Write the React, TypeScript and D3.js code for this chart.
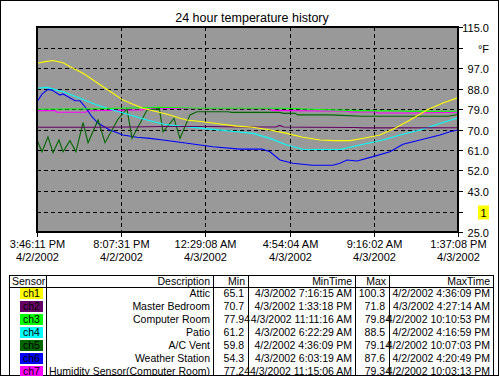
import React from "react";
import * as d3 from "d3";

const title = "24 hour temperature history";
const startTime = new Date(2002, 3, 2, 15, 46, 11);
const endTime = new Date(2002, 3, 3, 13, 37, 8);

const xTickTimes = [
  new Date(2002, 3, 2, 15, 46, 11),
  new Date(2002, 3, 2, 20, 7, 31),
  new Date(2002, 3, 3, 0, 29, 8),
  new Date(2002, 3, 3, 4, 54, 4),
  new Date(2002, 3, 3, 9, 16, 2),
  new Date(2002, 3, 3, 13, 37, 8),
];
const xTickTimeLabels = ["3:46:11 PM", "8:07:31 PM", "12:29:08 AM", "4:54:04 AM", "9:16:02 AM", "1:37:08 PM"];
const xTickDateLabels = ["4/2/2002", "4/2/2002", "4/3/2002", "4/3/2002", "4/3/2002", "4/3/2002"];

const yTicks = [25, 34, 43, 52, 61, 70, 79, 88, 97, 106, 115];
const yTickLabels = ["25.0", "1", "43.0", "52.0", "61.0", "70.0", "79.0", "88.0", "97.0", "°F", "115.0"];

// [hours since start, °F]
const ch1: [number, number][] = [[0,99.1],[0.43,99.8],[0.83,100.3],[1.35,99.3],[1.87,96.9],[2.39,94.7],[2.91,91.7],[3.43,88.8],[3.94,85.9],[4.46,82.9],[4.98,81.1],[5.5,79.3],[6.23,77.8],[6.9,76.4],[7.42,74.9],[7.78,74.2],[8.61,73.4],[9.5,72.4],[10.38,71.5],[11.21,71.0],[12.09,69.8],[12.97,68.3],[13.8,66.6],[14.69,65.4],[15.46,65.1],[16.24,65.1],[17.02,66.3],[17.8,67.6],[18.58,70.6],[19.36,74.2],[20.24,78.6],[21.07,81.6],[21.85,84.0]];
const ch2: [number, number][] = [[0,71.0],[3.0,71.0],[5.0,71.1],[6.5,71.3],[9.0,71.3],[10.5,71.1],[12.4,71.1],[12.6,71.8],[12.8,71.1],[14.0,71.0],[16.5,70.9],[17.0,70.7],[21.85,70.8]];
const ch3: [number, number][] = [[0,78.9],[3.27,79.1],[6.41,79.8],[8.46,79.3],[13.0,79.3],[14.17,78.9],[16.76,78.3],[18.84,78.1],[19.42,77.94],[21.85,78.0]];
const ch4: [number, number][] = [[0,88.1],[0.51,88.5],[1.35,86.6],[2.23,83.7],[3.11,80.8],[3.94,78.6],[4.83,76.4],[5.71,74.2],[6.54,72.4],[6.9,72.0],[8.61,70.5],[10.38,69.0],[11.21,68.3],[12.09,66.1],[12.97,63.2],[13.8,61.3],[14.6,61.2],[15.72,61.2],[16.76,63.2],[17.96,65.4],[18.84,67.6],[19.88,69.8],[20.91,72.6],[21.85,75.2]];
const ch5: [number, number][] = [[0,65.4],[0.26,60.2],[0.57,66.8],[0.83,59.8],[1.14,65.4],[1.35,60.2],[1.71,65.1],[2.02,60.2],[2.39,73.0],[2.65,64.2],[3.17,74.2],[3.53,64.2],[4.2,74.5],[4.67,79.0],[4.93,66.1],[5.71,78.6],[6.35,79.14],[6.54,69.0],[7.11,74.9],[7.42,66.1],[7.94,76.4],[8.3,77.8],[9.91,77.8],[10.12,77.5],[12.61,77.5],[12.77,77.1],[13.39,77.1],[13.54,76.4],[15.2,76.4],[16.87,75.8],[21.33,75.8],[21.85,76.6]];
const ch6: [number, number][] = [[0,82.2],[0.26,85.5],[0.57,87.6],[0.78,87.3],[1.19,85.1],[1.35,85.6],[1.61,84.4],[1.97,82.6],[2.23,82.6],[2.49,80.0],[2.85,75.6],[3.17,72.7],[3.79,69.8],[4.46,67.6],[5.19,66.6],[5.86,66.1],[6.54,65.4],[7.42,64.4],[9.13,62.4],[10.53,61.4],[11.68,61.4],[12.09,60.2],[12.61,56.6],[13.28,55.2],[14.28,54.3],[15.36,54.3],[15.72,55.2],[16.09,56.6],[16.61,56.2],[17.44,58.1],[18.32,60.2],[18.99,63.5],[19.88,65.4],[20.91,67.6],[21.43,69.0],[21.85,69.8]];
const ch7: [number, number][] = [[0,78.3],[0.93,78.3],[1.04,77.6],[2.49,77.6],[2.75,78.2],[5.35,78.6],[6.29,79.34],[8.46,79.1],[12.09,79.1],[12.2,78.4],[14.69,78.1],[16.09,78.1],[16.24,77.7],[17.54,77.7],[17.7,77.3],[19.48,77.24],[21.85,77.6]];

const sensorIds = ["ch1", "ch2", "ch3", "ch4", "ch5", "ch6", "ch7"];
const sensorColors = ["#ffff00", "#660066", "#00ff00", "#00ffff", "#006600", "#0000ff", "#ff00ff"];
const sensorSeries = [ch1, ch2, ch3, ch4, ch5, ch6, ch7];
const descriptions = ["Attic", "Master Bedroom", "Computer Room", "Patio", "A/C Vent", "Weather Station", "Humidity Sensor(Computer Room)"];
const minValues = ["65.1", "70.7", "77.94", "61.2", "59.8", "54.3", "77.24"];
const minTimes = ["4/3/2002 7:16:15 AM", "4/3/2002 1:33:18 PM", "4/3/2002 11:11:16 AM", "4/3/2002 6:22:29 AM", "4/2/2002 4:36:09 PM", "4/3/2002 6:03:19 AM", "4/3/2002 11:15:06 AM"];
const maxValues = ["100.3", "71.8", "79.84", "88.5", "79.14", "87.6", "79.34"];
const maxTimes = ["4/2/2002 4:36:09 PM", "4/3/2002 4:27:14 AM", "4/2/2002 10:10:53 PM", "4/2/2002 4:16:59 PM", "4/2/2002 10:07:03 PM", "4/2/2002 4:20:49 PM", "4/2/2002 10:03:13 PM"];
const headers = ["Sensor", "Description", "Min", "MinTime", "Max", "MaxTime"];

const FONT = "Arial, 'Liberation Sans', sans-serif";

export default function App() {
  const left = 37, right = 458, top = 27, bottom = 232;
  const x = d3.scaleTime().domain([startTime, endTime]).range([left, right]);
  const y = d3.scaleLinear().domain([25, 115]).range([bottom, top]);
  const toDate = (h: number) => new Date(startTime.getTime() + h * 3600 * 1000);
  const line = d3
    .line<[number, number]>()
    .x((d) => x(toDate(d[0])))
    .y((d) => y(d[1]));

  const colX = [9, 46, 213, 248, 355, 389, 493];
  const tableTop = 275;
  const headerBottom = 287;
  const rowH = 13;
  const tableBottom = 375;

  const valueText = (v: string, rightEdge: number, baseline: number, key: string) => {
    const parts = v.split(".");
    const extra = parts[1] && parts[1].length > 1 ? 6 : 0;
    return (
      <text key={key} x={rightEdge - 4 + extra} y={baseline} textAnchor="end">
        {v}
      </text>
    );
  };

  return (
    <div style={{ position: "absolute", left: 0, top: 0 }}>
      <svg width={500} height={376} style={{ display: "block", fontFamily: FONT }}>
        <rect x={0} y={0} width={500} height={376} fill="#ffffff" />
        <rect x={0.5} y={0.5} width={498} height={375} fill="none" stroke="#000" />
        <text x={252} y={22} textAnchor="middle" fontSize={12.5} fill="#000">
          {title}
        </text>
        <rect x={left} y={top} width={right - left} height={bottom - top} fill="#999999" />
        <g stroke="#000" strokeDasharray="4,3" strokeWidth={1}>
          {yTicks.slice(1, -1).map((t) => (
            <line key={"gy" + t} x1={left} x2={right} y1={Math.round(y(t)) + 0.5} y2={Math.round(y(t)) + 0.5} />
          ))}
          {xTickTimes.slice(1, -1).map((t, i) => (
            <line key={"gx" + i} x1={Math.round(x(t)) + 0.5} x2={Math.round(x(t)) + 0.5} y1={top} y2={bottom} />
          ))}
        </g>
        <g fill="none" strokeWidth={1.1}>
          {sensorSeries
            .map((s, i) => ({ s, i }))
            .reverse()
            .map(({ s, i }) => (
              <path key={"l" + i} d={line(s) || ""} stroke={sensorColors[i]} />
            ))}
        </g>
        <rect x={left} y={top} width={right - left} height={bottom - top} fill="none" stroke="#000" strokeWidth={2} />
        {/* right axis */}
        <g fontSize={11} fill="#000">
          {yTicks.map((t, i) => {
            const yy = Math.round(y(t)) + 0.5;
            return (
              <g key={"yt" + t}>
                <line x1={right} x2={right + 5} y1={yy} y2={yy} stroke="#000" />
                {yTickLabels[i] === "1" ? (
                  <g>
                    <rect x={478} y={yy - 7} width={11} height={14} fill="#ffff00" />
                    <text x={483.5} y={yy + 4} textAnchor="middle">
                      1
                    </text>
                  </g>
                ) : (
                  <text x={489} y={yy + 4} textAnchor="end">
                    {yTickLabels[i]}
                  </text>
                )}
              </g>
            );
          })}
        </g>
        {/* bottom axis */}
        <g fontSize={11} fill="#000">
          {xTickTimes.map((t, i) => {
            const xx = Math.round(x(t)) + 0.5;
            return (
              <g key={"xt" + i}>
                <line x1={xx} x2={xx} y1={bottom} y2={bottom + 5} stroke="#000" />
                <text x={xx} y={248} textAnchor="middle">
                  {xTickTimeLabels[i]}
                </text>
                <text x={xx} y={261} textAnchor="middle">
                  {xTickDateLabels[i]}
                </text>
              </g>
            );
          })}
        </g>
        {/* table */}
        <g fontSize={10.5} fill="#000">
          <rect x={colX[0] + 0.5} y={tableTop + 0.5} width={colX[6] - colX[0]} height={tableBottom - tableTop} fill="none" stroke="#000" />
          <line x1={colX[0]} x2={colX[6]} y1={headerBottom + 0.5} y2={headerBottom + 0.5} stroke="#000" />
          {colX.slice(1, -1).map((cx, i) => (
            <line key={"cl" + i} x1={cx + 0.5} x2={cx + 0.5} y1={tableTop} y2={tableBottom} stroke="#000" />
          ))}
          <text x={12} y={tableTop + 10}>{headers[0]}</text>
          {headers.slice(1).map((h, i) => (
            <text key={"h" + i} x={colX[i + 2] - 3} y={tableTop + 10} textAnchor="end">
              {h}
            </text>
          ))}
          {sensorIds.map((id, i) => {
            const rt = headerBottom + rowH * i;
            const base = rt + 10;
            return (
              <g key={"r" + i}>
                <rect x={20} y={rt + 1} width={23} height={11} fill={sensorColors[i]} />
                <text x={31.5} y={base} textAnchor="middle">
                  {id}
                </text>
                <text x={colX[2] - 3} y={base} textAnchor="end">
                  {descriptions[i]}
                </text>
                {valueText(minValues[i], colX[3], base, "mn" + i)}
                <text x={colX[4] - 3} y={base} textAnchor="end">
                  {minTimes[i]}
                </text>
                {valueText(maxValues[i], colX[5], base, "mx" + i)}
                <text x={colX[6] - 3} y={base} textAnchor="end">
                  {maxTimes[i]}
                </text>
              </g>
            );
          })}
        </g>
      </svg>
    </div>
  );
}
